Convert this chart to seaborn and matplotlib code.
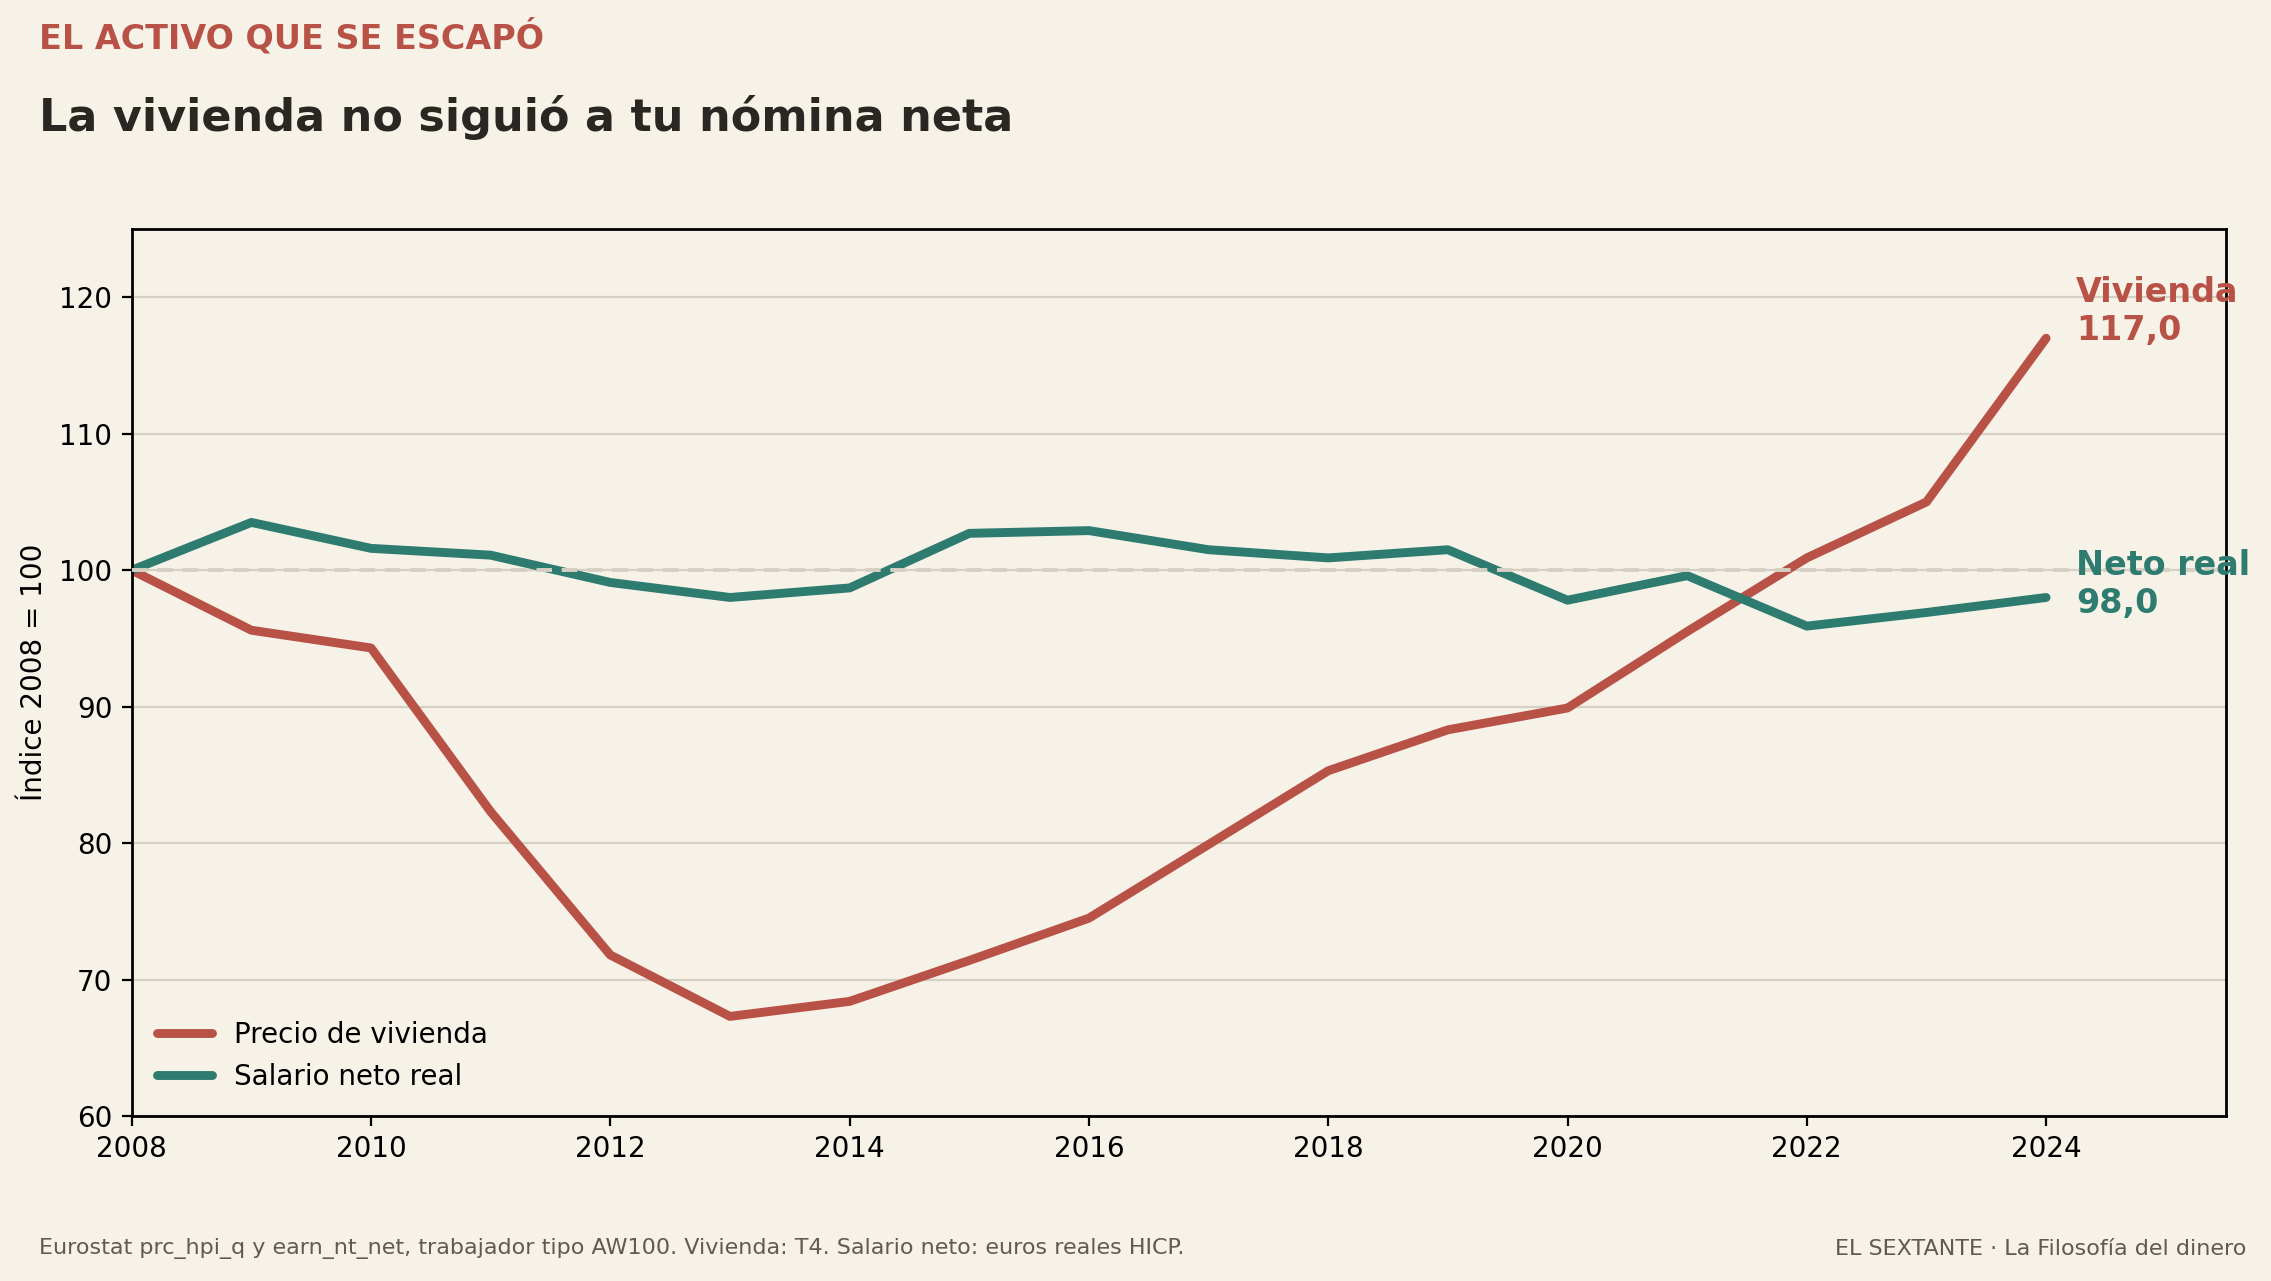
import matplotlib
matplotlib.use("Agg")
import matplotlib.pyplot as plt
import seaborn as sns
import pandas as pd

years = list(range(2008, 2025))
vivienda = [100.0, 95.6, 94.3, 82.3, 71.8, 67.3, 68.4, 71.4, 74.5, 79.9, 85.3, 88.3, 89.9, 95.5, 100.9, 105.0, 117.0]
salario = [100.0, 103.5, 101.6, 101.1, 99.1, 98.0, 98.7, 102.7, 102.9, 101.5, 100.9, 101.5, 97.8, 99.6, 95.9, 96.9, 98.0]
series_names = ["Precio de vivienda", "Salario neto real"]
end_labels = ["Vivienda", "Neto real"]

kicker = "EL ACTIVO QUE SE ESCAPÓ"
title = "La vivienda no siguió a tu nómina neta"
ylabel = "Índice 2008 = 100"
source = "Eurostat prc_hpi_q y earn_nt_net, trabajador tipo AW100. Vivienda: T4. Salario neto: euros reales HICP."
brand = "EL SEXTANTE · La Filosofía del dinero"
xticks = list(range(2008, 2025, 2))
yticks = [60, 70, 80, 90, 100, 110, 120]

BG = "#f6f2e8"
RED = "#b85247"
TEAL = "#2e7b70"
GRID = "#d6d0c4"

sns.set_theme(style="white")
plt.rcParams["font.family"] = ["DejaVu Sans"]
plt.rcParams["axes.facecolor"] = BG
plt.rcParams["figure.facecolor"] = BG
plt.rcParams["text.color"] = "black"

df = pd.DataFrame({
    "year": years * 2,
    "value": vivienda + salario,
    "serie": [series_names[0]] * len(years) + [series_names[1]] * len(years),
})

fig = plt.figure(figsize=(11.355, 6.405), dpi=200)
ax = fig.add_axes([0.058, 0.1288, 0.922, 0.6924])
ax.set_facecolor(BG)

sns.lineplot(data=df, x="year", y="value", hue="serie", palette=[RED, TEAL],
             linewidth=3.2, ax=ax, legend=True)

ax.axhline(100, color=GRID, lw=1.4, ls=(0, (4, 2.5)), zorder=3)

ax.set_xlim(2008, 2025.5)
ax.set_ylim(60, 125)
ax.set_xticks(xticks)
ax.set_yticks(yticks)
ax.yaxis.grid(True, color=GRID, lw=0.8)
ax.xaxis.grid(False)
ax.set_axisbelow(True)
for s in ax.spines.values():
    s.set_color("black")
    s.set_linewidth(1.0)
ax.tick_params(axis="both", which="major", length=3.5, width=0.8, color="black",
               labelsize=10, labelcolor="black", bottom=True, left=True)
ax.set_xlabel("")
ax.set_ylabel(ylabel, fontsize=10, color="black", labelpad=4)

leg = ax.legend(loc="lower left", frameon=False, fontsize=10, labelcolor="black")

offsets = [1.95, 0.95]
colors = [RED, TEAL]
for vals, name, col, off in zip([vivienda, salario], end_labels, colors, offsets):
    v = vals[-1]
    ax.text(years[-1] + 0.25, v + off, f"{name}\n{v:.1f}".replace(".", ","),
            color=col, fontsize=12, fontweight="bold", ha="left", va="center",
            clip_on=False)

fig.text(0.017, 0.9706, kicker, color=RED, fontsize=12, fontweight="bold", va="center", ha="left")
fig.text(0.017, 0.908, title, color="#2a2723", fontsize=16, fontweight="bold", va="center", ha="left")
fig.text(0.017, 0.025, source, color="#5f5a52", fontsize=8, va="center", ha="left")
fig.text(0.989, 0.025, brand, color="#5f5a52", fontsize=8, va="center", ha="right")

fig.savefig("out.png", dpi=200, facecolor=BG)
